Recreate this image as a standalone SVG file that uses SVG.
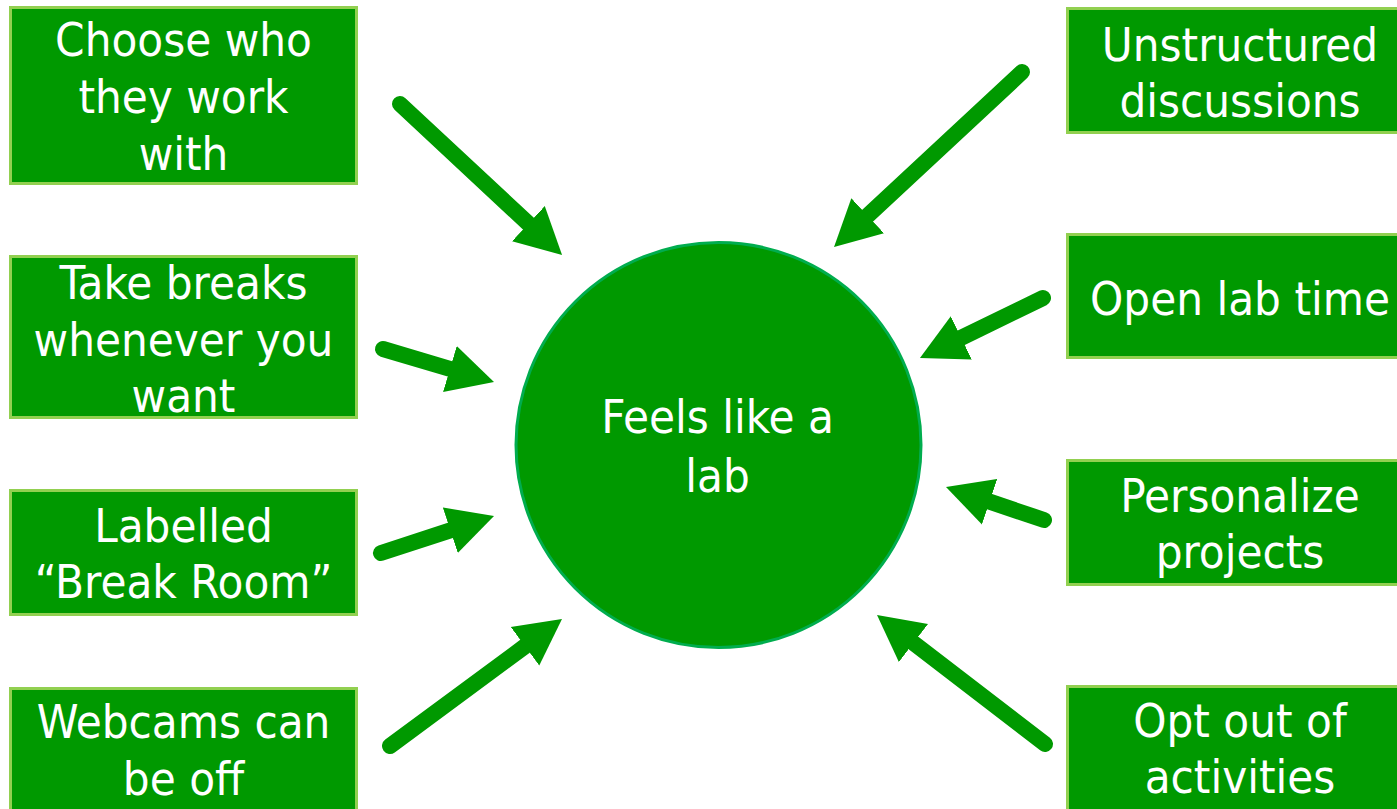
<svg xmlns="http://www.w3.org/2000/svg" width="1397" height="809" viewBox="0 0 1397 809">
<style>
.box{fill:#009900;stroke:#92d050;stroke-width:3}
.hub{fill:#009900;stroke:#00ad4e;stroke-width:3}
.t{font-family:"DejaVu Sans Condensed","DejaVu Sans",sans-serif;font-stretch:condensed;font-size:47px;fill:#ffffff;text-anchor:middle}
.arr{stroke:#009900;stroke-width:16;stroke-linecap:round;fill:none;marker-end:url(#head)}
</style>
<defs>
<marker id="head" markerUnits="userSpaceOnUse" viewBox="0 -25 47 50" markerWidth="47" markerHeight="50" refX="0" refY="0" orient="auto">
<path d="M0,-24 L46,0 L0,24 z" fill="#009900"/>
</marker>
</defs>
<rect width="1397" height="809" fill="#ffffff"/>
<g id="connectors">
<line class="arr" x1="400" y1="104" x2="528.4" y2="223.6"/>
<line class="arr" x1="383" y1="349" x2="449.9" y2="368.9"/>
<line class="arr" x1="381" y1="553" x2="450.3" y2="530.3"/>
<line class="arr" x1="390" y1="746" x2="525" y2="646.3"/>
<line class="arr" x1="1022" y1="72" x2="867.7" y2="215.7"/>
<line class="arr" x1="1043" y1="298" x2="961.3" y2="337.8"/>
<line class="arr" x1="1044" y1="520" x2="989.6" y2="501.7"/>
<line class="arr" x1="1045" y1="744" x2="913.5" y2="643"/>
</g>
<g id="hub">
<circle class="hub" cx="718.5" cy="445" r="202.5"/>
<text class="t" x="717.5" y="433">Feels like a</text>
<text class="t" x="717.5" y="492">lab</text>
</g>
<g id="choose">
<rect class="box" x="10.5" y="7.5" width="346" height="176"/>
<text class="t" x="183.5" y="56">Choose who</text>
<text class="t" x="183.5" y="113">they work</text>
<text class="t" x="183.5" y="170">with</text>
</g>
<g id="breaks">
<rect class="box" x="10.5" y="256.5" width="346" height="161"/>
<text class="t" x="183.5" y="299">Take breaks</text>
<text class="t" x="183.5" y="356">whenever you</text>
<text class="t" x="183.5" y="412">want</text>
</g>
<g id="labelled">
<rect class="box" x="10.5" y="490.5" width="346" height="124"/>
<text class="t" x="183.5" y="542">Labelled</text>
<text class="t" x="183.5" y="598">“Break Room”</text>
</g>
<g id="webcams">
<rect class="box" x="10.5" y="688.5" width="346" height="140"/>
<text class="t" x="183.5" y="738">Webcams can</text>
<text class="t" x="183.5" y="795">be off</text>
</g>
<g id="unstructured">
<rect class="box" x="1067.5" y="8.5" width="346" height="124"/>
<text class="t" x="1240" y="61">Unstructured</text>
<text class="t" x="1240" y="117">discussions</text>
</g>
<g id="openlab">
<rect class="box" x="1067.5" y="234.5" width="346" height="123"/>
<text class="t" x="1240" y="315">Open lab time</text>
</g>
<g id="personalize">
<rect class="box" x="1067.5" y="460.5" width="346" height="124"/>
<text class="t" x="1240" y="512">Personalize</text>
<text class="t" x="1240" y="568">projects</text>
</g>
<g id="optout">
<rect class="box" x="1067.5" y="686.5" width="346" height="140"/>
<text class="t" x="1240" y="737">Opt out of</text>
<text class="t" x="1240" y="793">activities</text>
</g>
</svg>
